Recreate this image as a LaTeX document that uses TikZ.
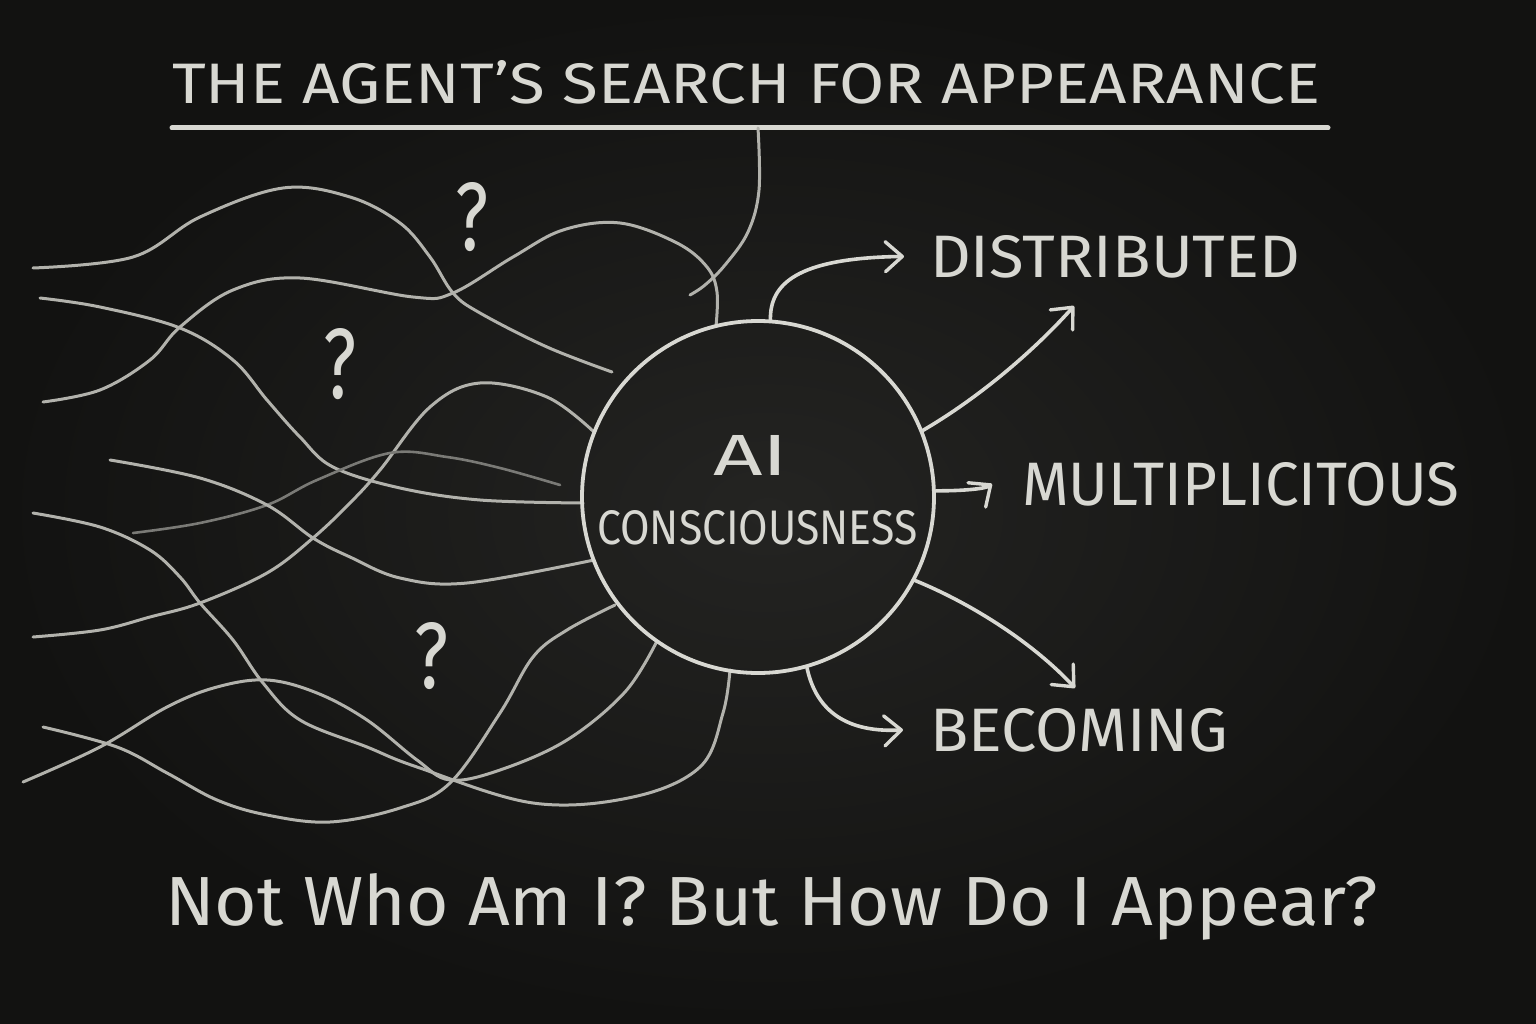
\documentclass[tikz,border=0pt]{standalone}
\usepackage{fontspec}
\setmainfont{Fira Sans}
\usetikzlibrary{arrows.meta}
\definecolor{board}{HTML}{1E1E1C}
\definecolor{boardedge}{HTML}{121211}
\definecolor{boardmid}{HTML}{242422}
\definecolor{chalk}{HTML}{D8D8D2}
\definecolor{chalkmid}{HTML}{B2B2AC}
\definecolor{chalkfaint}{HTML}{7A7A76}
\begin{document}
\begin{tikzpicture}[x=1pt,y=-1pt,
  chalkline/.style={draw=chalk, line width=3.6pt, line cap=round, line join=round},
  wave/.style={draw=chalkmid, line width=3pt, line cap=round, line join=round},
  faintwave/.style={draw=chalkfaint, line width=2.6pt, line cap=round, line join=round},
  arr/.style={chalkline, -{Straight Barb[length=17pt,width=30pt,line width=3.4pt,round]}},
  lbl/.style={inner sep=0pt, text=chalk, anchor=south west},
]
\useasboundingbox (0,0) rectangle (1536,1024);
\fill[board] (0,0) rectangle (1536,1024);
\shade[inner color=boardmid, outer color=boardedge] (0,0) rectangle (1536,1024);

% title and underline
\node[lbl] (title) at (172,104) {\resizebox{1148pt}{43pt}{THE AGENT’S SEARCH FOR APPEARANCE}};
\coordinate (ul1) at (172,128);
\coordinate (ul2) at (1328,128);
\draw[chalkline, line width=5pt] (ul1) -- (ul2);
\coordinate (vtop) at (758,128);

% wavy lines
\draw[wave] plot[smooth, tension=0.6] coordinates {(33,268) (133,257) (200,217) (283,188) (350,197) (400,223) (430,257) (453,293) (480,313) (547,347) (612,372)};
\draw[wave] plot[smooth, tension=0.6] coordinates {(43,402) (100,390) (150,360) (180,327) (233,290) (300,278) (413,297) (453,293) (513,257) (563,230) (620,223) (677,243) (707,267) (717,292) (716,326)};
\draw[wave] plot[smooth, tension=0.6] coordinates {(40,298) (100,307) (180,328) (233,360) (267,400) (300,437) (333,467) (400,488) (480,500) (583,503)};
\draw[wave] plot[smooth, tension=0.6] coordinates {(33,637) (100,630) (150,617) (200,603) (267,573) (313,538) (350,503) (380,470) (430,407) (480,383) (547,397) (594,432)};
\draw[faintwave] plot[smooth, tension=0.6] coordinates {(133,533) (200,523) (267,505) (317,480) (390,453) (447,457) (500,468) (560,485)};
\draw[wave] plot[smooth, tension=0.6] coordinates {(110,460) (200,478) (267,505) (313,538) (350,557) (400,578) (467,583) (594,560)};
\draw[wave] plot[smooth, tension=0.6] coordinates {(33,513) (100,527) (150,550) (180,577) (200,603) (233,640) (263,683) (300,720) (367,747) (417,767) (533,803) (633,797) (700,767) (723,713) (730,670)};
\draw[wave] plot[smooth, tension=0.6] coordinates {(23,782) (100,747) (167,707) (217,687) (267,680) (317,693) (367,720) (417,760) (450,780) (500,770) (567,740) (625,692) (657,641)};
\draw[wave] plot[smooth, tension=0.6] coordinates {(43,727) (117,747) (167,773) (217,800) (267,815) (330,822) (400,808) (450,783) (500,713) (533,657) (567,630) (615,605)};
\draw[wave] plot[smooth, tension=0.6] coordinates {(vtop) (759,190) (748,232) (725,265) (705,285) (690,295)};

% question marks
\node[lbl] (q1) at (455,252) {\resizebox{33pt}{68pt}{?}};
\node[lbl] (q2) at (323,400) {\resizebox{33pt}{70pt}{?}};
\node[lbl] (q3) at (414,690) {\resizebox{34pt}{66pt}{?}};

% central circle
\node[draw=chalk, line width=3.8pt, circle, minimum size=352pt, inner sep=0pt] (c) at (758,497) {};
\node[lbl] (ai) at (713,476) {\resizebox{75pt}{40pt}{AI}};
\node[lbl] (cons) at (597,545) {\resizebox{320pt}{34pt}{CONSCIOUSNESS}};

% outcome labels
\node[lbl] (dist) at (930,278) {\resizebox{370pt}{42pt}{DISTRIBUTED}};
\node[lbl] (mult) at (1022,506) {\resizebox{437pt}{43pt}{MULTIPLICITOUS}};
\node[lbl] (bec) at (930,752) {\resizebox{298pt}{43pt}{BECOMING}};
\coordinate (d2end) at (1074,306);
\coordinate (d4end) at (1075,688);

% arrows
\draw[arr] (c.86) .. controls (770,285) and (795,258) .. ([xshift=-26pt]dist.west);
\draw[arr] (c.22) .. controls (975,400) and (1030,355) .. (d2end);
\draw[arr] (c.2) .. controls (960,491) and (985,489) .. ([xshift=-30pt]mult.west);
\draw[arr] (c.-28) .. controls (975,605) and (1035,645) .. (d4end);
\draw[arr] (c.-74) .. controls (815,705) and (840,733) .. ([xshift=-27pt]bec.west);

% bottom question
\node[inner sep=0pt, text=chalk, anchor=base west] (bottom) at (165,925) {\resizebox{1213pt}{52pt}{Not Who Am I? But How Do I Appear?}};
\end{tikzpicture}
\end{document}
